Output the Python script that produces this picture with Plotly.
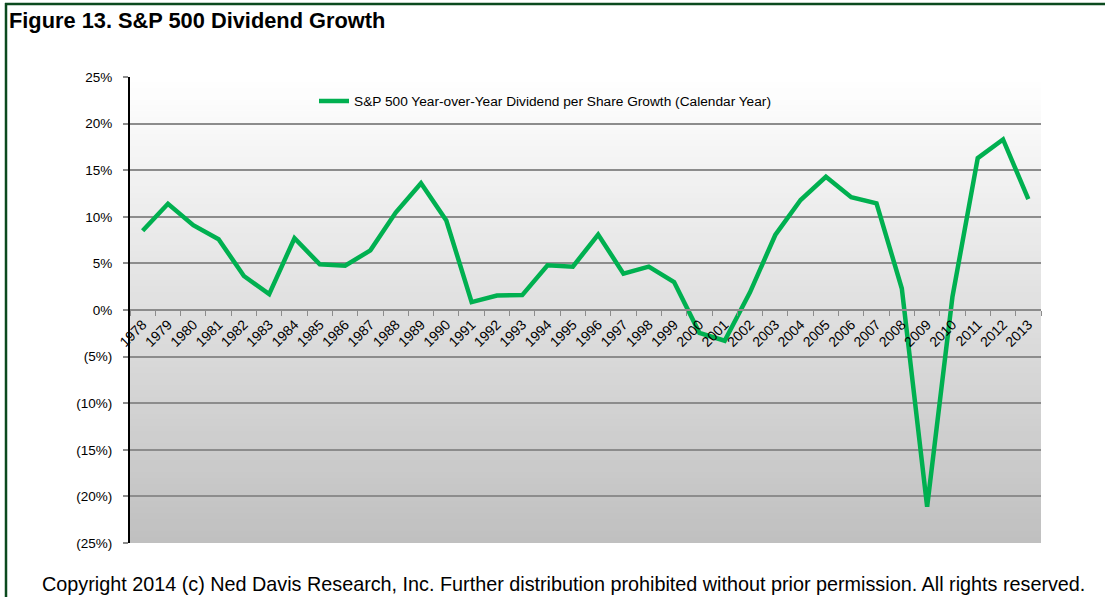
import plotly.graph_objects as go

years = [str(y) for y in range(1978, 2014)]
growth = [8.5, 11.4, 9.1, 7.6, 3.65, 1.7, 7.7, 4.9, 4.75, 6.4,
          10.45, 13.6, 9.6, 0.85, 1.55, 1.6, 4.8, 4.65, 8.1, 3.9,
          4.65, 3.0, -2.45, -3.3, 1.9, 8.05, 11.8, 14.3, 12.1, 11.45,
          2.3, -21.1, 1.4, 16.3, 18.3, 11.9]
series_name = "S&P 500 Year-over-Year Dividend per Share Growth (Calendar Year)"
y_tickvals = [25, 20, 15, 10, 5, 0, -5, -10, -15, -20, -25]
y_ticktext = ["25%", "20%", "15%", "10%", "5%", "0%", "(5%)", "(10%)", "(15%)", "(20%)", "(25%)"]

W, H = 1105, 597
L, R, T, B = 130, 64, 77, 54
PW, PH = W - L - R, H - T - B

def px_x(px):
    return (px - L) / PW

def px_y(py):
    return (H - B - py) / PH

fig = go.Figure()
fig.add_trace(go.Scatter(
    x=years, y=growth, mode="lines", name=series_name,
    line=dict(color="#00B050", width=4.5),
))

shapes = []
# gradient background
n = 80
for i in range(n):
    t = i / (n - 1)
    c = int(round(255 - (255 - 192) * t))
    shapes.append(dict(type="rect", xref="paper", yref="paper", layer="below",
                       x0=0, x1=1, y0=1 - (i + 1) / n, y1=1 - i / n + 0.002,
                       fillcolor=f"rgb({c},{c},{c})", line=dict(width=0)))
# dark green frame (left and top)
shapes.append(dict(type="line", xref="paper", yref="paper",
                   x0=px_x(6), x1=px_x(6), y0=px_y(600), y1=px_y(3),
                   line=dict(color="#0B4A1E", width=2.5)))
shapes.append(dict(type="line", xref="paper", yref="paper",
                   x0=px_x(5), x1=px_x(1110), y0=px_y(4), y1=px_y(4),
                   line=dict(color="#0B4A1E", width=2.5)))

fig.update_layout(
    width=W, height=H,
    margin=dict(l=L, r=R, t=T, b=B, pad=0),
    paper_bgcolor="white",
    plot_bgcolor="rgba(0,0,0,0)",
    font=dict(family="Arial, Liberation Sans, sans-serif", size=13, color="#000000"),
    shapes=shapes,
    showlegend=True,
    legend=dict(x=px_x(314), xanchor="left", y=px_y(101), yanchor="middle",
                bgcolor="rgba(0,0,0,0)", font=dict(size=13.7, color="#000000"),
                itemwidth=30),
    annotations=[
        dict(text="<b>Figure 13. S&P 500 Dividend Growth</b>", xref="paper", yref="paper",
             x=px_x(7), y=px_y(20), xanchor="left", yanchor="middle", showarrow=False,
             font=dict(family="Liberation Sans, Arial, sans-serif", size=21.8, color="#000000")),
        dict(text="Copyright 2014 (c) Ned Davis Research, Inc. Further distribution prohibited without prior permission. All rights reserved.",
             xref="paper", yref="paper", x=px_x(563), y=px_y(584), xanchor="center", yanchor="middle",
             showarrow=False,
             font=dict(family="Liberation Sans, Arial, sans-serif", size=19.8, color="#000000")),
    ],
)

fig.update_xaxes(
    type="category", range=[-0.5, len(years) - 0.5],
    anchor="free", position=0.5,
    showline=True, linecolor="#8C8C8C", linewidth=2,
    showgrid=False, zeroline=False,
    ticks="outside", tickson="boundaries", ticklen=5, tickcolor="#8C8C8C", tickwidth=1,
    tickangle=-45, tickfont=dict(size=14, color="#000000"),
)
fig.update_yaxes(
    range=[-25, 25], tickvals=y_tickvals, ticktext=y_ticktext,
    showline=True, linecolor="#000000", linewidth=2,
    showgrid=True, gridcolor="#8C8C8C", gridwidth=1.5,
    zeroline=False,
    ticks="outside", ticklen=5, tickcolor="#8C8C8C", tickwidth=1.5,
    ticklabelstandoff=8,
    tickfont=dict(size=13.5, color="#000000"),
)

fig.write_html("out.html")
